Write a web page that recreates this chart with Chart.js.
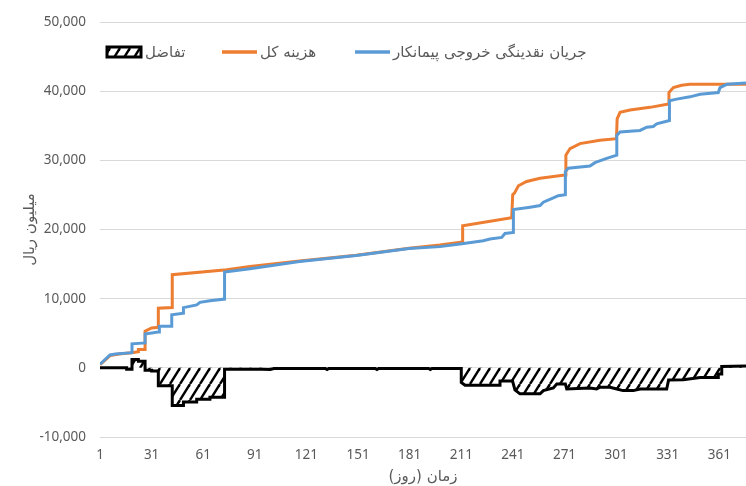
<!DOCTYPE html>
<html>
<head>
<meta charset="utf-8">
<script src="https://cdn.jsdelivr.net/npm/chart.js@4/dist/chart.umd.min.js"></script>
<style>
html, body { margin: 0; padding: 0; background: #fff; }
#wrap { width: 746px; height: 486px; overflow: hidden; }
</style>
</head>
<body>
<div id="wrap"><canvas id="chart" width="746" height="486"></canvas></div>
<script>
// series names (legend order, left to right)
var diffName = "تفاضل";
var costName = "هزینه کل";
var flowName = "جریان نقدینگی خروجی پیمانکار";

// هزینه کل (total cost): day / million rials
var costDays = [1, 7, 12, 19.4, 23.3, 23.3, 27.2, 27.2, 31, 34.9, 34.9, 43, 43, 74.7, 88.2, 117, 150, 180.6, 198.6, 211.8, 211.8,
    240.3, 240.9, 242, 244.2, 249, 256.8, 271.3, 271.8, 274.2, 280, 291.6, 301.2, 301.6, 303.3, 309.1, 320.7, 331.5, 331.7,
    334.3, 339.1, 343.9, 376.5];
var costValues = [450, 1800, 2000, 2200, 2330, 2670, 2670, 5290, 5760, 5860, 8620, 8710, 13470, 14190, 14670, 15450, 16300, 17300, 17760, 18200, 20530,
    21710, 25040, 25300, 26330, 26960, 27430, 27900, 30760, 31710, 32430, 32900, 33140, 36000, 36960, 37290, 37670, 38140, 39810,
    40530, 40860, 41000, 41000];

// جریان نقدینگی خروجی پیمانکار (contractor cash outflow)
var flowDays = [1, 6.8, 10, 19.6, 19.6, 27.2, 27.2, 34.7, 35.5, 35.5, 42.7, 42.7, 49.5, 49.5, 57.2, 59.1, 64.9, 73.4, 73.4, 88.2,
    117, 150, 180.6, 198.6, 210.3, 223.8, 227.7, 234.5, 236.4, 241.3, 241.3, 251, 256.8, 258.7, 264.5, 267.4, 271.5, 271.5,
    273.2, 285.8, 288.7, 295.5, 301.4, 301.4, 303.3, 314.9, 318.8, 322.6, 324.6, 332, 332, 336.2, 343.9, 349.8, 360.4,
    361.4, 365.3, 376.5];
var flowValues = [530, 1860, 2000, 2190, 3470, 3600, 4900, 5190, 5190, 6000, 6000, 7670, 7900, 8710, 9100, 9470, 9710, 9950, 13860, 14330,
    15380, 16250, 17250, 17530, 17900, 18380, 18620, 18860, 19430, 19570, 22900, 23240, 23470, 23950, 24570, 24900, 25040, 28380,
    28860, 29190, 29670, 30290, 30760, 33620, 34100, 34330, 34810, 34900, 35290, 35760, 38620, 38860, 39190, 39570, 39810,
    40530, 41000, 41200];

// تفاضل (difference)
var diffDays = [1, 16.5, 16.5, 19.6, 19.6, 23.3, 23.3, 27.2, 27.2, 31, 31, 34.9, 34.9, 43, 43, 49.5, 49.5, 57.2, 57.2, 64.9, 64.9,
    73.4, 73.4, 95, 100, 102, 132, 133, 134, 161, 162, 163, 192, 193, 194, 211, 211, 213.2, 233.5, 233.5, 240.8, 242.2,
    245.1, 256.8, 258.7, 264.5, 266.5, 271.5, 272.3, 285.8, 289.7, 291.6, 297.5, 301.4, 305, 311, 314.9, 330.4, 331.5,
    340, 349.8, 360.4, 360.4, 362.4, 362.4, 376.5];
var diffValues = [0, 0, -190, -190, 1200, 1200, 950, 950, -330, -330, -470, -470, -2600, -2600, -5450, -5450, -4950, -4950, -4550, -4550, -4250,
    -4250, -200, -200, -250, -100, -100, -250, -100, -100, -250, -100, -100, -250, -100, -100, -2100, -2500, -2500, -1900, -1900, -3190,
    -3760, -3760, -3290, -2900, -2330, -2330, -3050, -2900, -3050, -2810, -2810, -3050, -3290, -3290, -3050, -3050, -1760,
    -1710, -1380, -1380, -900, -900, 200, 250];

var xTicks = [1, 31, 61, 91, 121, 151, 181, 211, 241, 271, 301, 331, 361];
var yMin = -10000, yMax = 50000, yStep = 10000;

var textColor = "#595959";

function points(days, values) {
    return days.map(function (d, i) { return { x: d, y: values[i] }; });
}

function makeHatch() {
    var c = document.createElement("canvas");
    c.width = 10;
    c.height = 16;
    var g = c.getContext("2d");
    g.fillStyle = "#fff";
    g.fillRect(0, 0, 10, 16);
    g.strokeStyle = "#000";
    g.lineWidth = 2.4;
    [-10, 0, 10].forEach(function (dx) {
        g.beginPath();
        g.moveTo(dx, 16);
        g.lineTo(dx + 10, 0);
        g.stroke();
    });
    return g.createPattern(c, "repeat");
}
var hatch = makeHatch();

// legend sits inside the plot like the original
var insideLegend = {
    id: "insideLegend",
    afterDatasetsDraw: function (chart) {
        var ctx = chart.ctx;
        var y = 52;
        var startX = [107, 222, 355];
        ctx.save();
        ctx.font = '15px "DejaVu Sans", sans-serif';
        ctx.textBaseline = "middle";
        ctx.textAlign = "left";
        chart.data.datasets.forEach(function (ds, i) {
            var x = startX[i];
            if (ds.fill) {
                ctx.fillStyle = ds.backgroundColor;
                ctx.fillRect(x, y - 5, 34, 10);
                ctx.strokeStyle = "#000";
                ctx.lineWidth = 3;
                ctx.strokeRect(x, y - 5, 34, 10);
            } else {
                ctx.strokeStyle = ds.borderColor;
                ctx.lineWidth = 3.5;
                ctx.beginPath();
                ctx.moveTo(x, y);
                ctx.lineTo(x + 35, y);
                ctx.stroke();
            }
            ctx.fillStyle = textColor;
            ctx.fillText(ds.label, x + 38, y + 1);
        });
        ctx.restore();
    }
};

var tickFont = { family: '"Noto Sans", "DejaVu Sans", sans-serif', size: 13.5 };
var titleFont = { family: '"DejaVu Sans", sans-serif', size: 15 };

new Chart(document.getElementById("chart").getContext("2d"), {
    type: "line",
    data: {
        datasets: [
            {
                label: diffName,
                data: points(diffDays, diffValues),
                borderColor: "#000",
                borderWidth: 3,
                backgroundColor: hatch,
                fill: "origin",
                order: 0
            },
            {
                label: costName,
                data: points(costDays, costValues),
                borderColor: "#ED7D31",
                borderWidth: 3,
                fill: false,
                order: 2
            },
            {
                label: flowName,
                data: points(flowDays, flowValues),
                borderColor: "#5B9BD5",
                borderWidth: 3,
                fill: false,
                order: 1
            }
        ]
    },
    options: {
        responsive: false,
        animation: false,
        devicePixelRatio: 1,
        layout: { padding: { top: 18, right: 0, bottom: 0, left: 0 } },
        elements: {
            point: { radius: 0, hoverRadius: 0 },
            line: { tension: 0 }
        },
        plugins: {
            legend: { display: false },
            tooltip: { enabled: false }
        },
        scales: {
            x: {
                type: "linear",
                min: 1,
                max: 376.5,
                afterBuildTicks: function (scale) {
                    scale.ticks = xTicks.map(function (v) { return { value: v }; });
                },
                afterFit: function (scale) { scale.height = 49; },
                ticks: { color: textColor, font: tickFont, padding: 10, maxRotation: 0, autoSkip: false },
                grid: { display: false, drawTicks: false },
                border: { display: false },
                title: {
                    display: true,
                    text: "زمان (روز)\u200F",
                    color: textColor,
                    font: titleFont,
                    padding: { top: 0, bottom: 0 }
                }
            },
            y: {
                min: yMin,
                max: yMax,
                afterFit: function (scale) { scale.width = 100; },
                ticks: { stepSize: yStep, color: textColor, font: tickFont, padding: 14 },
                grid: { color: "#d9d9d9", lineWidth: 1, drawTicks: false },
                border: { display: false },
                title: {
                    display: true,
                    text: "میلیون ریال",
                    color: textColor,
                    font: titleFont,
                    padding: { top: 21, bottom: 0 }
                }
            }
        }
    },
    plugins: [insideLegend]
});
</script>
</body>
</html>
